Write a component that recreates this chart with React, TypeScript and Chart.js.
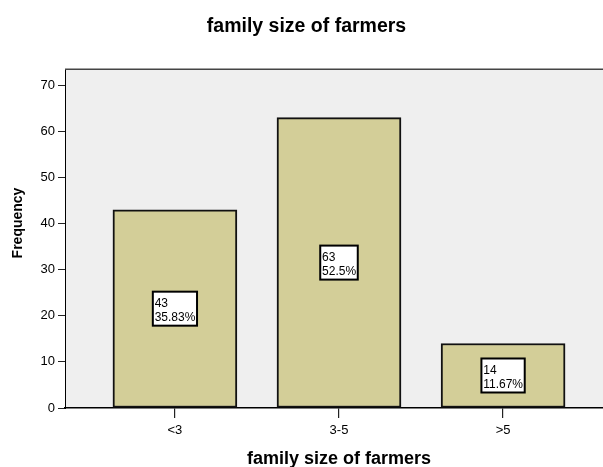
import React, { useEffect, useRef } from "react";
import { Chart, registerables } from "chart.js";

Chart.register(...registerables);

const TITLE = "family size of farmers";
const X_TITLE = "family size of farmers";
const Y_TITLE = "Frequency";
const CATEGORIES = ["<3", "3-5", ">5"];
const FREQUENCIES = [43, 63, 14];
const PERCENTS = ["35.83%", "52.5%", "11.67%"];
const Y_TICKS = [0, 10, 20, 30, 40, 50, 60, 70];

const FONT = '"Liberation Sans", Arial, Helvetica, sans-serif';

const decor = {
  id: "decor",
  beforeDraw(chart: any) {
    const { ctx, chartArea: a } = chart;
    ctx.save();
    ctx.fillStyle = "#efefef";
    ctx.fillRect(a.left, a.top, a.right - a.left, a.bottom - a.top);
    ctx.restore();
  },
  afterDatasetsDraw(chart: any) {
    const { ctx } = chart;
    const meta = chart.getDatasetMeta(0);
    ctx.save();
    ctx.font = `12px ${FONT}`;
    meta.data.forEach((bar: any, i: number) => {
      const { x, y, base } = bar.getProps(["x", "y", "base"], true);
      const l1 = String(FREQUENCIES[i]);
      const l2 = PERCENTS[i];
      const w = Math.max(ctx.measureText(l1).width, ctx.measureText(l2).width) + 3.5;
      const h = 34;
      const bx = x - w / 2;
      const by = (y + base) / 2 - h / 2;
      ctx.fillStyle = "#ffffff";
      ctx.fillRect(bx, by, w, h);
      ctx.strokeStyle = "#000";
      ctx.lineWidth = 2;
      ctx.strokeRect(bx, by, w, h);
      ctx.fillStyle = "#000";
      ctx.textAlign = "left";
      ctx.textBaseline = "alphabetic";
      ctx.fillText(l1, bx + 1.8, by + 15.5);
      ctx.fillText(l2, bx + 1.8, by + 29.5);
    });
    ctx.restore();
  },
  afterDraw(chart: any) {
    const { ctx, chartArea: a } = chart;
    ctx.save();
    ctx.strokeStyle = "#444";
    ctx.lineWidth = 1.5;
    ctx.beginPath();
    ctx.moveTo(a.left, a.top);
    ctx.lineTo(a.right, a.top);
    ctx.stroke();
    ctx.font = `bold 14px ${FONT}`;
    ctx.fillStyle = "#000";
    ctx.textAlign = "center";
    ctx.textBaseline = "middle";
    ctx.translate(18.5, 223);
    ctx.rotate(-Math.PI / 2);
    ctx.fillText(Y_TITLE, 0, 0);
    ctx.restore();
  },
};

export default function App() {
  const ref = useRef<HTMLCanvasElement | null>(null);

  useEffect(() => {
    if (!ref.current) return;
    Chart.defaults.font.family = FONT;
    const chart = new Chart(ref.current, {
      type: "bar",
      data: {
        datasets: [
          {
            data: FREQUENCIES.map((v, i) => ({ x: i + 1, y: v })),
            backgroundColor: "#d3ce98",
            borderColor: "#111",
            borderWidth: 2,
            borderSkipped: false,
            barThickness: 124,
          } as any,
        ],
      },
      options: {
        animation: false,
        responsive: false,
        layout: { padding: { left: 0, right: 5, top: 0, bottom: 0 } },
        plugins: {
          legend: { display: false },
          tooltip: { enabled: false },
          title: {
            display: true,
            text: TITLE,
            color: "#000",
            font: { family: FONT, size: 19.5, weight: "bold", lineHeight: 1.2 },
            padding: { top: 14.6, bottom: 31.3 },
          },
        },
        scales: {
          x: {
            type: "linear",
            min: 0.33,
            max: 3.67,
            offset: false,
            afterBuildTicks: (s: any) => {
              s.ticks = CATEGORIES.map((_, i) => ({ value: i + 1 }));
            },
            afterFit: (s: any) => {
              s.height = 59;
            },
            ticks: {
              callback: (v: any) => CATEGORIES[Math.round(v) - 1] ?? "",
              color: "#000",
              font: { size: 13 },
              padding: 5,
              maxRotation: 0,
              autoSkip: false,
            },
            grid: {
              display: true,
              offset: false,
              drawOnChartArea: false,
              drawTicks: true,
              tickLength: 10,
              color: "#222",
              lineWidth: 1.2,
            },
            border: { display: true, color: "#000", width: 1.5 },
            title: {
              display: true,
              text: X_TITLE,
              color: "#000",
              font: { size: 18, weight: "bold", lineHeight: 0.85 },
              padding: { top: 0, bottom: 0 },
            },
          } as any,
          y: {
            min: 0,
            max: 73.5,
            afterBuildTicks: (s: any) => {
              s.ticks = Y_TICKS.map((v) => ({ value: v }));
            },
            afterFit: (s: any) => {
              s.width = 65;
            },
            ticks: { color: "#000", font: { size: 13 }, padding: 3 },
            grid: { drawOnChartArea: false, tickLength: 7, color: "#222", lineWidth: 1 },
            border: { display: true, color: "#000", width: 1 },
          } as any,
        },
      },
      plugins: [decor],
    });
    return () => chart.destroy();
  }, []);

  return (
    <div
      style={{
        position: "absolute",
        left: 0,
        top: 0,
        width: 603,
        height: 467,
        overflow: "hidden",
        background: "#fff",
      }}
    >
      <canvas ref={ref} width={618} height={467} style={{ display: "block", width: 618, height: 467 }} />
    </div>
  );
}
